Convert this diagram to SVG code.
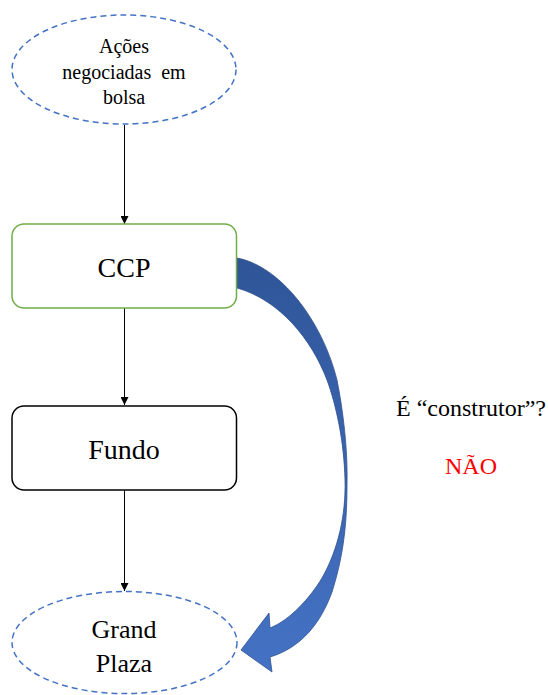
<svg xmlns="http://www.w3.org/2000/svg" width="548" height="695" viewBox="0 0 548 695">
<style>
.dash{fill:#fff;stroke:#4472C4;stroke-width:1.5;stroke-dasharray:6 4}
.t{font-family:"Liberation Serif","Times New Roman",serif;fill:#000;text-anchor:middle}
.conn{stroke:#000;stroke-width:1;fill:none}
</style>
<defs>
<marker id="ah" viewBox="0 0 10 10" refX="10" refY="5" markerWidth="8" markerHeight="8" markerUnits="userSpaceOnUse" orient="auto">
<path d="M0,0 L10,5 L0,10 z" fill="#000"/>
</marker>
<linearGradient id="bg" x1="0" y1="258" x2="0" y2="672" gradientUnits="userSpaceOnUse">
<stop offset="0" stop-color="#2F5597"/>
<stop offset="0.45" stop-color="#3A63AE"/>
<stop offset="1" stop-color="#4472C4"/>
</linearGradient>
</defs>
<rect width="548" height="695" fill="#fff"/>
<g id="connectors">
<line class="conn" x1="124.5" y1="125" x2="124.5" y2="224" marker-end="url(#ah)"/>
<line class="conn" x1="124.5" y1="308" x2="124.5" y2="405" marker-end="url(#ah)"/>
<line class="conn" x1="124.5" y1="490" x2="124.5" y2="591" marker-end="url(#ah)"/>
<path id="curved-arrow" d="M237,258 C280,266 322,320 337,380 C343,410 348,450 347,485 C347,530 342,560 332,592 C320,625 300,648 270,657 L272,672 L241,650 L269,613 L270,628 C290,620 310,598 322,578 C338,550 346,515 345,480 C344,440 336,405 327,380 C312,340 280,300 237,288 Z" fill="url(#bg)" stroke="#2F528F" stroke-width="0.8"/>
</g>
<g id="acoes">
<ellipse class="dash" cx="124" cy="69.5" rx="112" ry="54.5"/>
<text class="t" x="124" y="53" font-size="20">Ações</text>
<text class="t" x="124" y="79" font-size="20" xml:space="preserve">negociadas  em</text>
<text class="t" x="124" y="104" font-size="20">bolsa</text>
</g>
<g id="ccp">
<rect x="12" y="224" width="224.5" height="84" rx="12" fill="#fff" stroke="#70AD47" stroke-width="1.5"/>
<text class="t" x="124" y="277" font-size="28">CCP</text>
</g>
<g id="fundo">
<rect x="12" y="406" width="224.5" height="84" rx="12" fill="#fff" stroke="#000" stroke-width="1.5"/>
<text class="t" x="124" y="459" font-size="28">Fundo</text>
</g>
<g id="grandplaza">
<ellipse class="dash" cx="124.5" cy="642.5" rx="112.5" ry="51"/>
<text class="t" x="124" y="638" font-size="26">Grand</text>
<text class="t" x="124" y="672" font-size="26">Plaza</text>
</g>
<g id="labels">
<text class="t" x="471" y="416" font-size="24">É “construtor”?</text>
<text class="t" x="471" y="474" font-size="24" fill="#FF0000" style="fill:#FF0000">NÃO</text>
</g>
</svg>
